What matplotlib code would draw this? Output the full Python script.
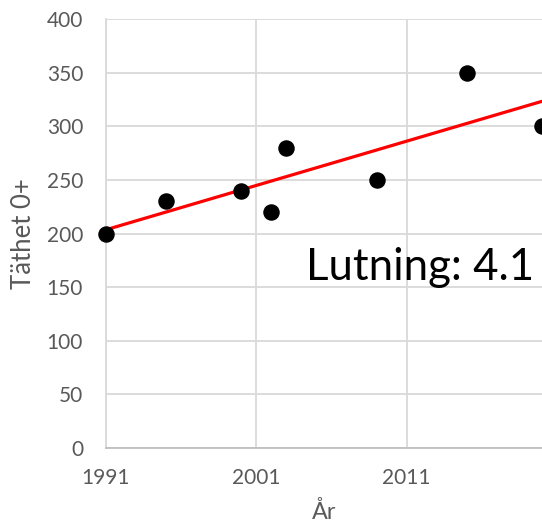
import numpy as np
import matplotlib
matplotlib.use("Agg")
import matplotlib.pyplot as plt

years = [1991, 1995, 2000, 2002, 2003, 2009, 2015, 2020]
density = [200, 230, 240, 220, 280, 250, 350, 300]
x_ticks = [1991, 2001, 2011]
y_ticks = [0, 50, 100, 150, 200, 250, 300, 350, 400]

plt.rcParams['font.family'] = ['Lato', 'DejaVu Sans']

fig = plt.figure(figsize=(5.42, 5.28), dpi=100)
ax = fig.add_axes([106/542, 80/528, 436/542, 429/528])

grid_c = '#D9D9D9'
ax.set_xticks(x_ticks)
ax.set_yticks(y_ticks)
ax.set_xlim(1991, 2020)
ax.set_ylim(0, 400)
ax.grid(True, color=grid_c, linewidth=1.3)
ax.set_axisbelow(True)
for s in ['top', 'right']:
    ax.spines[s].set_visible(False)
ax.spines['left'].set_color(grid_c)
ax.spines['left'].set_linewidth(1.3)
ax.spines['bottom'].set_color('#BFBFBF')
ax.spines['bottom'].set_linewidth(1.3)
ax.tick_params(length=0, labelsize=15, labelcolor='#595959')
ax.tick_params(axis='y', pad=16.5)
ax.tick_params(axis='x', pad=14.5)

x = np.array(years, dtype=float)
y = np.array(density, dtype=float)
slope, intercept = np.polyfit(x, y, 1)
xl = np.array([1991, 2020])
ax.plot(xl, slope * xl + intercept, color='#FF0000', linewidth=2.3, zorder=2)
ax.scatter(x, y, s=118, color='black', zorder=3, clip_on=False)

ax.text(2004.3, 156.6, f"Lutning: {slope:.1f}", fontsize=31.5, color='black')

ax.set_ylabel("Täthet 0+", fontsize=18.5, color='#595959')
ax.yaxis.set_label_coords(-0.160, 0.5)
ax.set_xlabel("År", fontsize=16.8, color='#595959', labelpad=9)

fig.savefig("out.png", dpi=100)
